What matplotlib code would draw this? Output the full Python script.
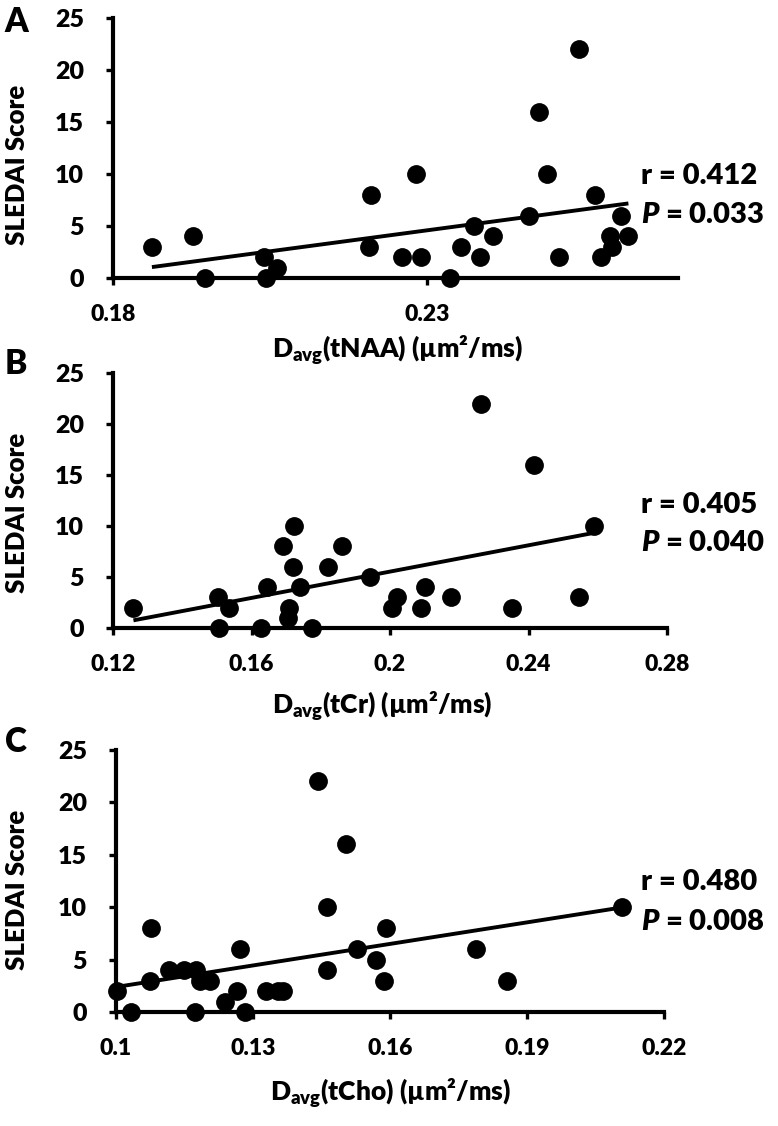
import numpy as np
import matplotlib
matplotlib.use("Agg")
import matplotlib.pyplot as plt

plt.rcParams['font.family'] = ['Lato', 'DejaVu Sans']
plt.rcParams['font.weight'] = 'heavy'
plt.rcParams['mathtext.fontset'] = 'custom'
plt.rcParams['mathtext.rm'] = 'Lato:heavy'
plt.rcParams['mathtext.bf'] = 'Lato:heavy'
plt.rcParams['mathtext.it'] = 'Lato:heavy:italic'

# ---- data ----
a_x = [0.1862, 0.1928, 0.1946, 0.2041, 0.2044, 0.2062, 0.2211, 0.2207, 0.2260,
       0.2282, 0.2291, 0.2337, 0.2354, 0.2375, 0.2384, 0.2405, 0.2463, 0.2478,
       0.2491, 0.2510, 0.2543, 0.2568, 0.2577, 0.2591, 0.2595, 0.2609, 0.2620]
a_y = [3, 4, 0, 2, 0, 1, 8, 3, 2, 10, 2, 0, 3, 5, 2, 4, 6, 16, 10, 2, 22, 8, 2, 4, 3, 6, 4]
a_fit_x = [0.1862, 0.2621]
a_fit_y = [1.05, 7.17]

b_x = [0.1259, 0.1503, 0.1507, 0.1535, 0.1628, 0.1644, 0.1692, 0.1708, 0.1705,
       0.1719, 0.1724, 0.1740, 0.1776, 0.1821, 0.1861, 0.1941, 0.2006, 0.2021,
       0.2090, 0.2101, 0.2176, 0.2263, 0.2353, 0.2417, 0.2546, 0.2589]
b_y = [2, 3, 0, 2, 0, 4, 8, 2, 1, 6, 10, 4, 0, 6, 8, 5, 2, 3, 2, 4, 3, 22, 2, 16, 3, 10]
b_fit_x = [0.1259, 0.2591]
b_fit_y = [0.75, 9.34]

c_x = [0.1002, 0.1032, 0.1076, 0.1075, 0.1115, 0.1148, 0.1176, 0.1172, 0.1184,
       0.1205, 0.1239, 0.1266, 0.1271, 0.1282, 0.1328, 0.1355, 0.1365, 0.1443,
       0.1462, 0.1462, 0.1503, 0.1527, 0.1569, 0.1591, 0.1587, 0.1788, 0.1856, 0.2107]
c_y = [2, 0, 8, 3, 4, 4, 4, 0, 3, 3, 1, 2, 6, 0, 2, 2, 2, 22, 10, 4, 16, 6, 5, 8, 3, 6, 3, 10]
c_fit_x = [0.1002, 0.2107]
c_fit_y = [2.40, 9.97]

panels = [
    dict(letter='A', x=a_x, y=a_y, fx=a_fit_x, fy=a_fit_y,
         xlim=(0.18, 0.27), xticks=[0.18, 0.23], xticklabels=['0.18', '0.23'],
         xlabel='D$_{\\mathrm{avg}}$(tNAA) (µm²/ms)',
         r='r = 0.412', p='$\\mathit{P}$ = 0.033',
         rect=[113, 18, 678, 278], letter_y=22, ylab_y=165, xlab_x=398, xlab_y=350,
         r_y=176, p_y=215),
    dict(letter='B', x=b_x, y=b_y, fx=b_fit_x, fy=b_fit_y,
         xlim=(0.12, 0.28), xticks=[0.12, 0.16, 0.2, 0.24, 0.28],
         xticklabels=['0.12', '0.16', '0.2', '0.24', '0.28'],
         xlabel='D$_{\\mathrm{avg}}$(tCr) (µm²/ms)',
         r='r = 0.405', p='$\\mathit{P}$ = 0.040',
         rect=[113, 373, 667, 628], letter_y=364, ylab_y=513, xlab_x=382, xlab_y=706,
         r_y=505, p_y=543),
    dict(letter='C', x=c_x, y=c_y, fx=c_fit_x, fy=c_fit_y,
         xlim=(0.1, 0.22), xticks=[0.1, 0.13, 0.16, 0.19, 0.22],
         xticklabels=['0.1', '0.13', '0.16', '0.19', '0.22'],
         xlabel='D$_{\\mathrm{avg}}$(tCho) (µm²/ms)',
         r='r = 0.480', p='$\\mathit{P}$ = 0.008',
         rect=[116, 750, 664, 1012], letter_y=742, ylab_y=890, xlab_x=390, xlab_y=1093,
         r_y=882, p_y=922),
]

W, H = 778, 1126
fig = plt.figure(figsize=(W / 100, H / 100), dpi=100)


def fx(px):
    return px / W


def fy(py):
    return 1 - py / H


for p in panels:
    l, t, r, b = p['rect']
    ax = fig.add_axes([fx(l), fy(b), (r - l) / W, (b - t) / H])
    ax.plot(p['x'], p['y'], 'o', color='black', markersize=12.5,
            clip_on=False, zorder=5)
    ax.plot(p['fx'], p['fy'], color='black', lw=2.8, zorder=4,
            solid_capstyle='butt')
    ax.set_xlim(p['xlim'])
    ax.set_ylim(0, 25)
    ax.set_xticks(p['xticks'])
    ax.set_xticklabels(p['xticklabels'], fontsize=16.5, fontweight='heavy')
    ax.set_yticks([0, 5, 10, 15, 20, 25])
    ax.set_yticklabels(['0', '5', '10', '15', '20', '25'], fontsize=18,
                       fontweight='heavy')
    for s in ['top', 'right']:
        ax.spines[s].set_visible(False)
    for s in ['left', 'bottom']:
        ax.spines[s].set_linewidth(3)
    ax.tick_params(axis='x', direction='out', length=5, width=2.4, pad=14)
    ax.tick_params(axis='y', direction='out', length=5, width=2.4, pad=16)
    ax.patch.set_alpha(0)

    fig.text(fx(16), fy(p['letter_y']), p['letter'], fontsize=24,
             fontweight='heavy', ha='center', va='center')
    fig.text(fx(17), fy(p['ylab_y']), 'SLEDAI Score', fontsize=18.5,
             fontweight='heavy', rotation=90, ha='center', va='center')
    fig.text(fx(p['xlab_x']), fy(p['xlab_y']), p['xlabel'], fontsize=19,
             fontweight='heavy', ha='center', va='center')
    fig.text(fx(641), fy(p['r_y']), p['r'], fontsize=21, fontweight='heavy',
             ha='left', va='center')
    fig.text(fx(641), fy(p['p_y']), p['p'], fontsize=21, fontweight='heavy',
             ha='left', va='center')

fig.savefig('out.png', dpi=100)
